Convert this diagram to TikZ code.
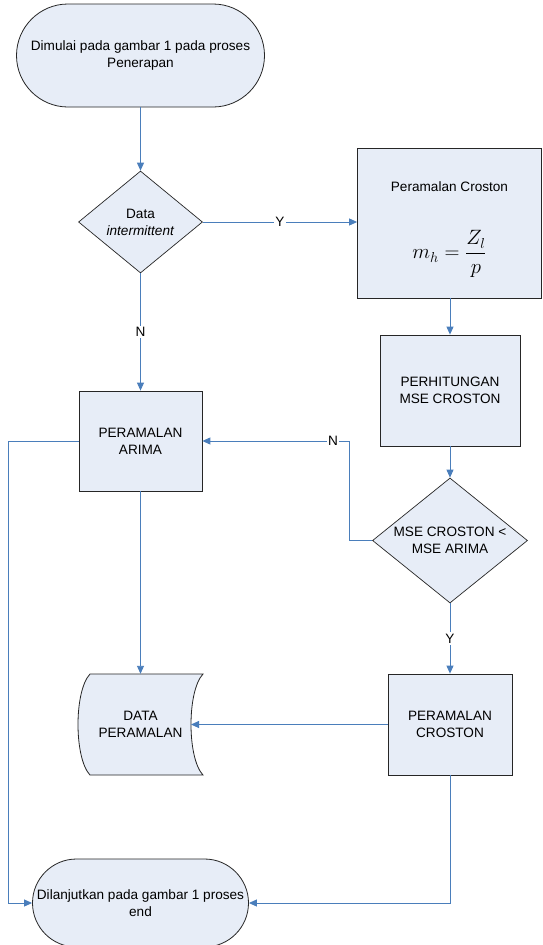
\documentclass[tikz,border=0pt]{standalone}
\usepackage{amsmath}
\usepackage{fontspec}
\setmainfont{Liberation Sans}
\usetikzlibrary{arrows.meta, positioning, shapes.geometric, shapes.misc}
\definecolor{shapefill}{RGB}{231,237,247}
\definecolor{linkblue}{RGB}{74,126,187}

\begin{document}
\begin{tikzpicture}[x=1pt, y=-1pt,
    font=\fontsize{13.6}{17}\selectfont,
    terminal/.style={draw=black!85, fill=shapefill, rounded rectangle, inner sep=0pt, line width=0.8pt},
    process/.style={draw=black!85, fill=shapefill, rectangle, align=center, line width=0.8pt},
    decision/.style={draw=black!85, fill=shapefill, diamond, inner sep=0pt, align=center, line width=0.7pt},
    conn/.style={draw=linkblue, line width=0.9pt, -{Triangle[length=8pt, width=7pt]}},
    lbl/.style={fill=white, inner sep=1.5pt}
]
\path[use as bounding box, fill=white] (0,0) rectangle (542,945);

% Start
\node[terminal, minimum width=248pt, minimum height=103pt] (start) at (140.5,55.5) {};
\node[align=center] (startText) at (start.center) {Dimulai pada gambar 1 pada proses\\Penerapan};

% Check for intermittent data
\node[decision, aspect=1.2, minimum width=124pt, minimum height=102pt] (isint) at (140.5,222) {Data\\\textit{intermittent}};

% Croston forecast
\node[process, minimum width=184pt, minimum height=150pt] (croston) at (449.5,223) {};
\node (crostonTitle) at (449.5,187) {Peramalan Croston};
\node[font=\fontsize{20}{24}\selectfont] (crostonEq) at (449.5,254) {$m_h = \dfrac{Z_l}{p}$};

\node[process, minimum width=140pt, minimum height=111pt] (msecroston) at (450,390.5) {PERHITUNGAN\\MSE CROSTON};

% Compare MSE
\node[decision, aspect=1.22, minimum width=155pt, minimum height=125pt] (compare) at (450,540.5) {MSE CROSTON <\\MSE ARIMA};

% ARIMA
\node[process, minimum width=123pt, minimum height=100pt] (arima) at (140.5,441) {PERAMALAN\\ARIMA};

\node[process, minimum width=124pt, minimum height=101pt] (forecast) at (450,724.5) {PERAMALAN\\CROSTON};

% Stored data
\draw[draw=black!85, fill=shapefill, line width=0.8pt] (90,674) .. controls (74,691) and (74,758) .. (90,775)
    -- (203,775) .. controls (187,758) and (187,691) .. (203,674) -- cycle;
\node[align=center, minimum width=125pt, minimum height=101pt] (datapr) at (140.5,724.5) {DATA\\PERAMALAN};
\coordinate (datain) at (191,724.5);

% End
\node[terminal, minimum width=216pt, minimum height=88pt] (finish) at (140.5,903) {};
\node[align=center] (finishText) at (finish.center) {Dilanjutkan pada gambar 1 proses\\end};

% Connectors
\draw[conn] (start.south) -- (isint.north);
\draw[conn] (isint.east) -- node[lbl] {Y} (isint.east -| croston.west);
\draw[conn] (isint.south) -- node[lbl] {N} (arima.north);
\draw[conn] (croston.south -| msecroston.north) -- (msecroston.north);
\draw[conn] (msecroston.south) -- (compare.north);
\draw[conn] (compare.west) -- ++(-23,0) |- node[lbl, pos=0.555] {N} (arima.east);
\draw[conn] (compare.south) -- node[lbl] {Y} (forecast.north);
\draw[conn] (arima.south) -- (datapr.north);
\draw[conn] (forecast.west) -- (datain);
\draw[conn] (arima.west) -- ++(-70,0) |- (finish.west);
\draw[conn] (forecast.south) |- (finish.east);

\end{tikzpicture}
\end{document}
